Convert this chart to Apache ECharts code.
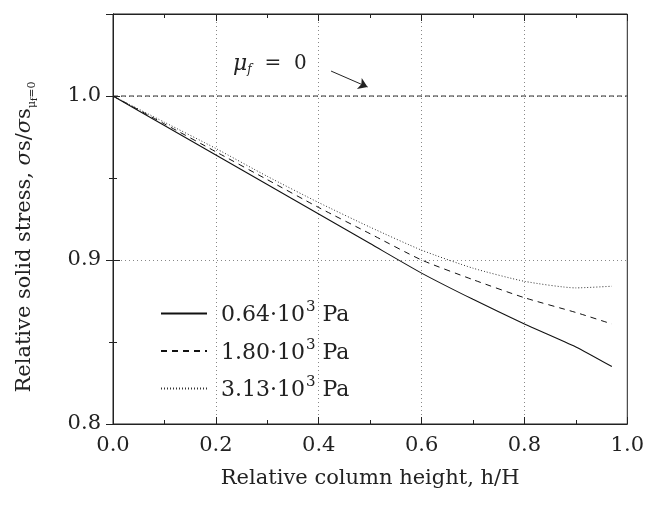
<!DOCTYPE html>
<html>
<head>
<meta charset="utf-8">
<script src="https://cdn.jsdelivr.net/npm/echarts@6/dist/echarts.min.js"></script>
<style>html,body{margin:0;padding:0;background:#fff}#c{width:647px;height:507px}</style>
</head>
<body>
<div id="c"></div>
<script>
// Data
const heights   = [0, 0.1, 0.2, 0.3, 0.4, 0.5, 0.6, 0.7, 0.8, 0.9, 0.97];
const stress064 = [1.0, 0.982, 0.964, 0.946, 0.928, 0.910, 0.892, 0.876, 0.861, 0.847, 0.835];
const stress180 = [1.0, 0.983, 0.966, 0.949, 0.932, 0.916, 0.900, 0.888, 0.877, 0.868, 0.861];
const stress313 = [1.0, 0.984, 0.968, 0.951, 0.935, 0.920, 0.906, 0.895, 0.887, 0.883, 0.884];
const refLineH  = [0, 1.0];
const refLineV  = [1.0, 1.0];
const seriesNames = ['0.64', '1.80', '3.13'];

const FONT = 'DejaVu Serif';
const pair = (xs, ys) => xs.map((x, i) => [x, ys[i]]);

const chart = echarts.init(document.getElementById('c'), null, {renderer: 'canvas'});
const axisCommon = {
  axisLine: {show: true, lineStyle: {color: '#222', width: 1}},
  axisTick: {show: true, inside: true, length: 7, lineStyle: {color: '#222'}},
  minorTick: {show: true, splitNumber: 2, length: 4, lineStyle: {color: '#222'}},
};
const legendRich = {
  n: {fontFamily: FONT, fontSize: 22, color: '#222', padding: [4, 0, 0, 9]},
  sup: {fontFamily: FONT, fontSize: 15, color: '#222', padding: [0, 0, 12, 1]},
  sp: {fontFamily: FONT, fontSize: 22, color: '#222', padding: [4, 0, 0, 0]}
};
chart.setOption({
  animation: false,
  backgroundColor: '#fff',
  grid: {left: 113, right: 18, top: 14, bottom: 83, show: true, borderColor: '#222', borderWidth: 1},
  xAxis: [{
    type: 'value', min: 0, max: 1, interval: 0.2,
    name: 'Relative column height, h/H', nameLocation: 'middle', nameGap: 44,
    nameTextStyle: {fontFamily: FONT, fontSize: 21, color: '#222'},
    axisLabel: {fontFamily: FONT, fontSize: 21, color: '#222', margin: 11, formatter: v => v.toFixed(1)},
    splitLine: {show: true, showMinLine: false, showMaxLine: false, lineStyle: {type: [1, 3], color: '#888', width: 1}},
    ...axisCommon
  }, {
    type: 'value', min: 0, max: 1, interval: 0.2, position: 'top',
    axisLabel: {show: false}, splitLine: {show: false},
    ...axisCommon
  }],
  yAxis: [{
    type: 'value', min: 0.8, max: 1.05, interval: 0.1,
    name: '{n|Relative solid stress, }{i|σ}{n|s/}{i|σ}{n|s}{sub|μ}{subf|f}{sub|=0}',
    nameLocation: 'middle', nameGap: 74,
    nameTextStyle: {
      padding: [0, 36, 0, 0],
      rich: {
        n: {fontFamily: FONT, fontSize: 21, color: '#222'},
        i: {fontFamily: FONT, fontSize: 21, fontStyle: 'italic', color: '#222'},
        sub: {fontFamily: FONT, fontSize: 11, color: '#222', padding: [16, 0, 0, 0]},
        subf: {fontFamily: FONT, fontSize: 9, color: '#222', padding: [20, 0, 0, 0]}
      }
    },
    axisLabel: {fontFamily: FONT, fontSize: 21, color: '#222', margin: 12, showMaxLabel: false, formatter: v => v.toFixed(1)},
    splitLine: {show: true, showMinLine: false, showMaxLine: false, lineStyle: {type: [1, 3], color: '#888', width: 1}},
    ...axisCommon
  }, {
    type: 'value', min: 0.8, max: 1.05, interval: 0.1, position: 'right',
    axisLabel: {show: false}, splitLine: {show: false},
    ...axisCommon
  }],
  legend: {
    orient: 'vertical', left: 155, top: 295, itemWidth: 46, itemHeight: 14, itemGap: 11,
    data: seriesNames.map(n => ({name: n, itemStyle: {opacity: 0}})),
    formatter: name => '{n|' + name + '·10}{sup|3}{sp| Pa}',
    textStyle: {rich: legendRich}
  },
  series: [
    {
      name: 'μf=0', type: 'line', data: pair(refLineH, refLineV), symbol: 'none', silent: true,
      lineStyle: {color: '#333', width: 1, type: [5, 3]},
      markLine: {
        silent: true, symbol: ['none', 'arrow'], symbolSize: 9,
        lineStyle: {color: '#222', width: 1, type: 'solid'},
        label: {show: false},
        data: [[{coord: [0.424, 1.0152]}, {coord: [0.495, 1.0055]}]]
      },
      markPoint: {
        silent: true, symbol: 'circle', symbolSize: 0,
        data: [{coord: [0.305, 1.0195]}],
        label: {
          show: true, position: 'inside',
          formatter: '{m|μ}{f|f}{t|  =  0}',
          rich: {
            m: {fontFamily: FONT, fontSize: 22, fontStyle: 'italic', color: '#222'},
            f: {fontFamily: FONT, fontSize: 12, fontStyle: 'italic', color: '#222', padding: [12, 0, 0, 0]},
            t: {fontFamily: FONT, fontSize: 20, color: '#222'}
          }
        }
      }
    },
    {name: '0.64', type: 'line', data: pair(heights, stress064), symbol: 'none', smooth: 0.2,
     lineStyle: {color: '#111', width: 1.1, type: 'solid'}, itemStyle: {color: '#111'}},
    {name: '1.80', type: 'line', data: pair(heights, stress180), symbol: 'none', smooth: 0.2,
     lineStyle: {color: '#111', width: 1, type: [6, 5]}, itemStyle: {color: '#111'}},
    {name: '3.13', type: 'line', data: pair(heights, stress313), symbol: 'none', smooth: 0.2,
     lineStyle: {color: '#333', width: 1, type: [1, 2]}, itemStyle: {color: '#333'}}
  ]
});
</script>
</body>
</html>
